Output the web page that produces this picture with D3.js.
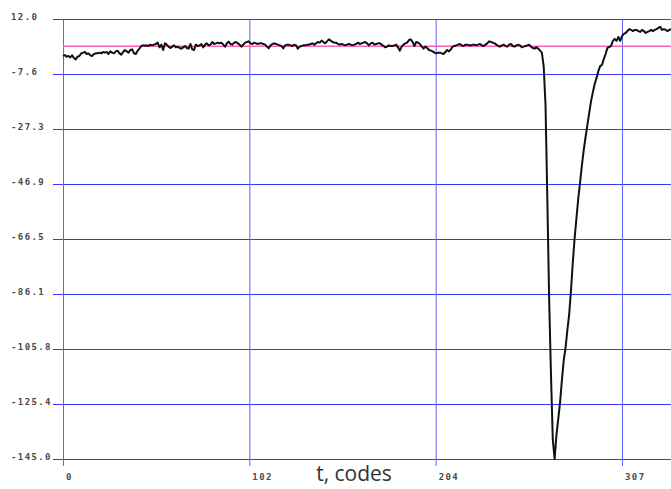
<!DOCTYPE html>
<html>
<head>
<meta charset="utf-8">
<script src="https://cdn.jsdelivr.net/npm/d3@7"></script>
<style>
  body { margin: 0; background: #fff; }
  svg { display: block; }
  .lbl { font-family: "DejaVu Sans Mono", monospace; font-weight: bold; font-size: 9px; letter-spacing: 1.4px; fill: #4a4a4a; }
</style>
</head>
<body>
<svg width="671" height="489"></svg>
<script>
// signal samples, one per code
var signal = [
  -1.20, -0.85, -1.44, -1.20, -1.68, -0.96, -1.92, -2.39, -1.44, -1.20,
  -0.25, -0.01, 0.23, -0.49, -0.25, -0.96, -1.20, -0.49, -0.25, -0.25,
  -0.01, -0.25, 0.23, -0.01, 0.23, -0.49, 0.46, -0.01, -0.25, 0.46,
  0.70, -0.25, -0.73, 0.23, 0.94, 0.46, -0.01, 0.94, 1.18, -0.25,
  -0.49, 0.70, 1.41, 2.37, 2.60, 2.49, 2.60, 2.37, 2.84, 2.60,
  2.84, 3.08, 3.56, 1.89, 2.84, 0.94, 3.32, 2.84, 2.13, 1.65,
  2.13, 2.60, 1.89, 2.13, 1.65, 1.41, 1.89, 2.37, 1.65, 1.41,
  3.08, 1.18, 0.94, 2.84, 2.37, 2.60, 3.08, 1.89, 2.84, 3.32,
  2.60, 2.84, 3.79, 3.08, 3.32, 3.56, 3.32, 3.56, 2.84, 2.13,
  3.32, 3.91, 3.08, 2.84, 3.56, 3.79, 3.32, 2.84, 2.13, 2.84,
  3.56, 3.79, 4.03, 3.32, 3.08, 3.56, 3.32, 3.08, 3.32, 3.32,
  3.08, 2.84, 2.13, 1.53, 2.60, 3.08, 3.32, 3.08, 2.84, 2.60,
  2.37, 1.53, 2.60, 2.84, 2.84, 2.60, 2.37, 2.84, 2.60, 1.41,
  2.13, 2.37, 2.60, 2.60, 2.84, 2.84, 3.08, 3.32, 2.84, 3.32,
  3.79, 3.56, 4.27, 3.79, 3.32, 4.03, 4.75, 4.27, 3.79, 3.56,
  3.56, 3.08, 2.84, 3.08, 2.84, 2.60, 2.84, 3.08, 2.84, 2.60,
  2.84, 3.08, 3.56, 3.08, 3.32, 3.56, 3.79, 3.32, 2.60, 3.32,
  3.56, 2.84, 3.08, 3.32, 3.32, 2.84, 2.37, 1.89, 2.13, 2.60,
  2.37, 2.37, 2.60, 2.84, 1.89, 0.70, 2.13, 2.84, 3.32, 3.56,
  4.51, 4.75, 3.79, 2.37, 3.79, 3.56, 3.08, 2.13, 1.41, 2.13,
  1.65, 0.94, 0.70, 0.46, -0.01, -0.25, -0.01, -0.01, -0.25, -0.49,
  0.23, 0.94, 0.46, 1.18, 2.13, 2.37, 2.60, 2.84, 3.08, 2.60,
  2.37, 2.84, 2.84, 2.60, 2.60, 2.84, 2.84, 2.60, 2.84, 3.08,
  2.60, 2.37, 2.84, 3.32, 4.03, 3.79, 3.56, 3.32, 2.84, 2.37,
  2.13, 2.60, 2.84, 2.37, 2.13, 2.84, 3.08, 2.37, 2.13, 2.60,
  2.84, 2.60, 1.89, 2.13, 2.37, 2.60, 2.84, 2.13, 1.65, 1.41,
  1.89, 1.41, 0.70, -0.01, -5.0, -18.7, -52.6, -88.3, -115.0, -138.2,
  -145.0, -136.4, -130.7, -124.7, -116.8, -109.7, -105.4, -99.0, -93.3, -84.7,
  -74.7, -66.1, -59.0, -51.9, -46.2, -40.1, -34.7, -30.1, -25.8, -21.5,
  -17.3, -14.1, -11.2, -9.1, -6.6, -4.8, -4.4, -2.3, -0.5, 1.7,
  2.0, 2.4, 4.2, 4.9, 4.2, 5.6, 4.2, 5.9, 6.7, 7.0,
  7.7, 8.4, 8.1, 7.7, 8.1, 8.1, 7.7, 7.4, 8.1, 7.7,
  7.0, 7.4, 7.7, 8.1, 7.7, 8.1, 8.4, 8.8, 9.2, 8.1,
  8.4, 8.1, 7.7, 8.1, 8.4, 8.4, 8.1, 8.4
];
var refLevel = 2.3;

var yTicks = [12, -7.625, -27.25, -46.875, -66.5, -86.125, -105.75, -125.375, -145];
var yTickLabels = ['12.0', '-7.6', '-27.3', '-46.9', '-66.5', '-86.1', '-105.8', '-125.4', '-145.0'];
var xTicks = [0, 307 / 3, 614 / 3, 307];
var xTickLabels = ['0', '102', '204', '307'];
var xTitle = 't, codes';

var svg = d3.select('svg');
var svgWidth = +svg.attr('width');
var svgHeight = +svg.attr('height');

var x = d3.scaleLinear().domain([0, 307]).range([63, 622]);
var y = d3.scaleLinear().domain([-145, 12]).range([459, 19]);

// horizontal grid, sticking out 10px left of the plot
var hGrid = svg.append('g')
    .attr('transform', 'translate(53,0)')
    .call(d3.axisRight(y).tickValues(yTicks).tickSize(svgWidth).tickFormat(''));
hGrid.select('.domain').remove();
hGrid.selectAll('line').attr('stroke', '#3535ff');

// vertical grid, sticking out 7px below the plot
var vGrid = svg.append('g')
    .attr('transform', 'translate(0,466)')
    .call(d3.axisTop(x).tickValues(xTicks).tickSize(447).tickFormat(''));
vGrid.select('.domain').remove();
vGrid.selectAll('line').attr('stroke', '#6060ff');

// tick labels
svg.append('g').selectAll('text')
    .data(yTicks)
    .enter()
    .append('text')
    .attr('class', 'lbl')
    .attr('x', 11)
    .attr('y', function(d){ return y(d) + 0.5; })
    .text(function(d, i){ return yTickLabels[i]; });

svg.append('g').selectAll('text')
    .data(xTicks)
    .enter()
    .append('text')
    .attr('class', 'lbl')
    .attr('x', function(d){ return x(d) + 3; })
    .attr('y', 480)
    .text(function(d, i){ return xTickLabels[i]; });

svg.append('text')
    .attr('x', 354)
    .attr('y', 481)
    .attr('text-anchor', 'middle')
    .style('font-family', '"Open Sans", sans-serif')
    .style('font-size', '21px')
    .style('fill', '#333')
    .text(xTitle);

// reference level
svg.append('line')
    .attr('x1', x(0)).attr('x2', svgWidth)
    .attr('y1', y(refLevel)).attr('y2', y(refLevel))
    .attr('stroke', '#ff5fb4')
    .attr('stroke-width', 1.5);

var line = d3.line()
    .x(function(d, i){ return x(i); })
    .y(function(d){ return y(d); });

svg.append('path')
    .datum(signal)
    .attr('d', line)
    .attr('fill', 'none')
    .attr('stroke', '#111')
    .attr('stroke-width', 2)
    .attr('stroke-linejoin', 'round');
</script>
</body>
</html>
